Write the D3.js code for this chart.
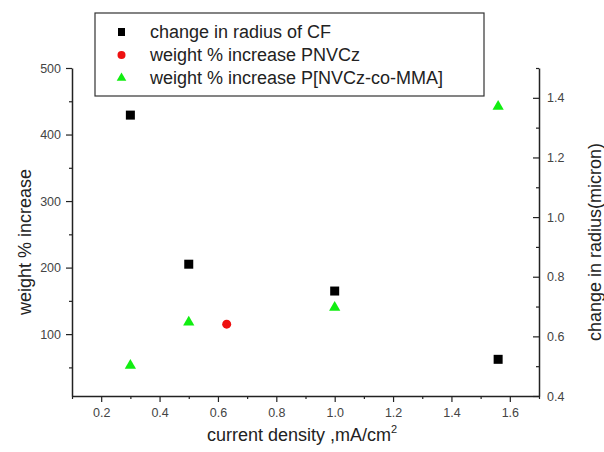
<!DOCTYPE html>
<html>
<head>
<meta charset="utf-8">
<script src="https://cdn.jsdelivr.net/npm/d3@7"></script>
<style>
  body { margin: 0; background: #fff; }
  svg text { font-family: "Liberation Sans", Arial, sans-serif; }
</style>
</head>
<body>
<div id="content"></div>
<script>
// data
var radiusX = [0.3, 0.5, 1.0, 1.56];
var radiusY = [1.342, 0.842, 0.752, 0.523];
var pnvczX = [0.63];
var pnvczY = [115];
var copolyX = [0.3, 0.5, 1.0, 1.56];
var copolyY = [53, 118, 140, 442];

var xTicks = [0.2, 0.4, 0.6, 0.8, 1.0, 1.2, 1.4, 1.6];
var leftTicks = [100, 200, 300, 400, 500];
var rightTicks = [0.4, 0.6, 0.8, 1.0, 1.2, 1.4];

var legendLabels = ["change in radius of CF", "weight % increase PNVCz", "weight % increase P[NVCz-co-MMA]"];

(function() {
var W = 604, H = 452;
var mLeft = 72, mRight = 539, mTop = 68, mBottom = 396;

var svg = d3.select("#content").append("svg").attr("width", W).attr("height", H);

var x = d3.scaleLinear().domain([0.1, 1.7]).range([mLeft, mRight]);
var yL = d3.scaleLinear().domain([7, 500]).range([mBottom, mTop]);
var yR = d3.scaleLinear().domain([0.4, 1.5]).range([mBottom, mTop]);

// minor ticks
var xMinor = [0.1, 0.3, 0.5, 0.7, 0.9, 1.1, 1.3, 1.5, 1.7];
var lMinor = [50, 150, 250, 350, 450];
var rMinor = [0.5, 0.7, 0.9, 1.1, 1.3, 1.5];

var axisColor = "#222", labelColor = "#444";

// bottom axis
var gx = svg.append("g").attr("transform", "translate(0," + mBottom + ")");
gx.call(d3.axisBottom(x).tickValues(xTicks).tickFormat(d3.format(".1f")).tickSizeInner(6).tickSizeOuter(0).tickPadding(6));
gx.append("g").attr("class", "minor").call(d3.axisBottom(x).tickValues(xMinor).tickSize(3).tickFormat("")).select(".domain").remove();

// left axis
var gl = svg.append("g").attr("transform", "translate(" + mLeft + ",0)");
gl.call(d3.axisLeft(yL).tickValues(leftTicks).tickSizeInner(6).tickSizeOuter(0).tickPadding(5));
gl.append("g").attr("class", "minor").call(d3.axisLeft(yL).tickValues(lMinor).tickSize(3).tickFormat("")).select(".domain").remove();

// right axis, ticks point inward
var gr = svg.append("g").attr("transform", "translate(" + mRight + ",0)");
gr.call(d3.axisRight(yR).tickValues(rightTicks).tickFormat(d3.format(".1f")).tickSizeInner(0).tickSizeOuter(0).tickPadding(8));
gr.selectAll(".tick line").attr("x1", -6).attr("x2", 0);
var grMinor = gr.append("g").attr("class", "minor").call(d3.axisRight(yR).tickValues(rMinor).tickSize(0).tickFormat(""));
grMinor.select(".domain").remove();
grMinor.selectAll(".tick line").attr("x1", -3).attr("x2", 0);

svg.selectAll(".domain").attr("stroke", axisColor).attr("stroke-width", 1.5);
svg.selectAll(".tick line").attr("stroke", axisColor).attr("stroke-width", 1.2);
svg.selectAll(".tick text").attr("fill", labelColor).style("font-size", "12.5px");

// axis titles
svg.append("text").attr("x", 302).attr("y", 441).attr("text-anchor", "middle")
  .style("font-size", "18px").attr("fill", "#222")
  .text("current density ,mA/cm").append("tspan").attr("dy", -8).style("font-size", "11px").text("2");

svg.append("text").attr("transform", "translate(31,242) rotate(-90)").attr("text-anchor", "middle")
  .style("font-size", "18px").attr("fill", "#222").text("weight % increase");

svg.append("text").attr("transform", "translate(601,242) rotate(-90)").attr("text-anchor", "middle")
  .style("font-size", "18px").attr("fill", "#222").text("change in radius(micron)");

// points
var radius = radiusX.map(function(d, i) { return [d, radiusY[i]]; });
var pnvcz = pnvczX.map(function(d, i) { return [d, pnvczY[i]]; });
var copoly = copolyX.map(function(d, i) { return [d, copolyY[i]]; });

svg.append("g").selectAll("rect").data(radius).enter().append("rect")
  .attr("x", function(d) { return x(d[0]) - 4.5; })
  .attr("y", function(d) { return yR(d[1]) - 4.5; })
  .attr("width", 9).attr("height", 9).attr("fill", "#000");

svg.append("g").selectAll("circle").data(pnvcz).enter().append("circle")
  .attr("cx", function(d) { return x(d[0]); })
  .attr("cy", function(d) { return yL(d[1]); })
  .attr("r", 4.5).attr("fill", "#ee1111");

var tri = d3.symbol().type(d3.symbolTriangle).size(55);
svg.append("g").selectAll("path").data(copoly).enter().append("path")
  .attr("d", tri)
  .attr("transform", function(d) { return "translate(" + x(d[0]) + "," + yL(d[1]) + ")"; })
  .attr("fill", "#11ee11");

// legend
var lg = svg.append("g");
lg.append("rect").attr("x", 95).attr("y", 13).attr("width", 389).attr("height", 83)
  .attr("fill", "#fff").attr("stroke", "#333").attr("stroke-width", 1.2);

var rowY = [32, 55, 78];
legendLabels.forEach(function(t, i) {
  var yy = rowY[i];
  if (i == 0) lg.append("rect").attr("x", 118).attr("y", yy - 4).attr("width", 7).attr("height", 8).attr("fill", "#000");
  if (i == 1) lg.append("circle").attr("cx", 121.5).attr("cy", yy).attr("r", 4).attr("fill", "#ee1111");
  if (i == 2) lg.append("path").attr("d", d3.symbol().type(d3.symbolTriangle).size(40)).attr("transform", "translate(121.5," + yy + ")").attr("fill", "#11ee11");
  lg.append("text").attr("x", 150).attr("y", yy + 6).style("font-size", "18px").attr("fill", "#222").text(t);
});
})();
</script>
</body>
</html>
